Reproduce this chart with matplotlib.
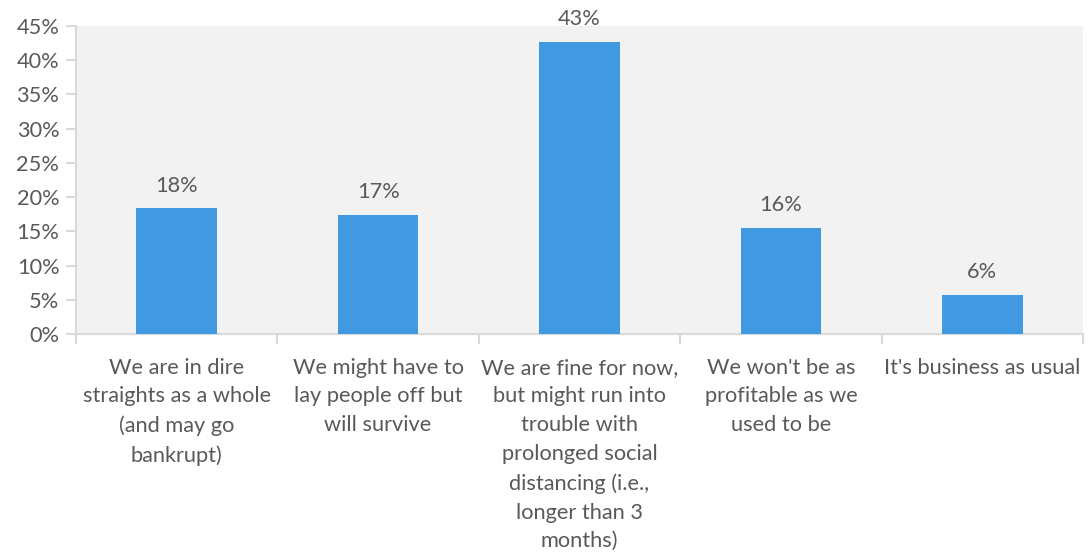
import matplotlib
matplotlib.use("Agg")
import matplotlib.pyplot as plt
import numpy as np

categories = [
    "We are in dire\nstraights as a whole\n(and may go\nbankrupt)",
    "We might have to\nlay people off but\nwill survive",
    "We are fine for now,\nbut might run into\ntrouble with\nprolonged social\ndistancing (i.e.,\nlonger than 3\nmonths)",
    "We won't be as\nprofitable as we\nused to be",
    "It's business as usual",
]
values = [18.4, 17.4, 42.7, 15.5, 5.7]
value_labels = ["18%", "17%", "43%", "16%", "6%"]
yticks = [0, 5, 10, 15, 20, 25, 30, 35, 40, 45]
ytick_labels = [f"{t}%" for t in yticks]

text_color = "#595959"
bar_color = "#4199e1"
grid_color = "#d9d9d9"
fs = 15.7

plt.rcParams['font.family'] = ['Lato', 'DejaVu Sans']

fig = plt.figure(figsize=(10.88, 5.55), dpi=100)
ax = fig.add_axes([76/1088, 1-334/555, (1083-76)/1088, (334-26)/555])
ax.set_facecolor("#f2f2f2")

x = np.arange(len(categories))
ax.bar(x, values, width=0.4, color=bar_color, zorder=3)
for xi, v, lab in zip(x, values, value_labels):
    ax.annotate(lab, (xi, v), xytext=(0, 9), textcoords="offset points",
                ha="center", va="bottom", fontsize=fs, color=text_color)

ax.set_xlim(-0.5, len(categories) - 0.5)
ax.set_ylim(0, 45)
ax.set_yticks(yticks)
ax.set_yticklabels(ytick_labels, fontsize=fs, color=text_color)
ax.set_xticks(x)
ax.set_xticklabels(categories, fontsize=fs, color=text_color, linespacing=1.55, va="top")
ax.tick_params(axis="x", length=0, pad=17)
ax.set_xticks(np.arange(-0.5, len(categories)), minor=True)
ax.tick_params(axis="x", which="minor", length=7, color=grid_color, width=1.5)
ax.tick_params(axis="y", length=7, color=grid_color, width=1.5, pad=5)

for s in ["top", "right"]:
    ax.spines[s].set_visible(False)
for s in ["left", "bottom"]:
    ax.spines[s].set_color(grid_color)
    ax.spines[s].set_linewidth(1.5)

fig.savefig("out.png", dpi=100)
